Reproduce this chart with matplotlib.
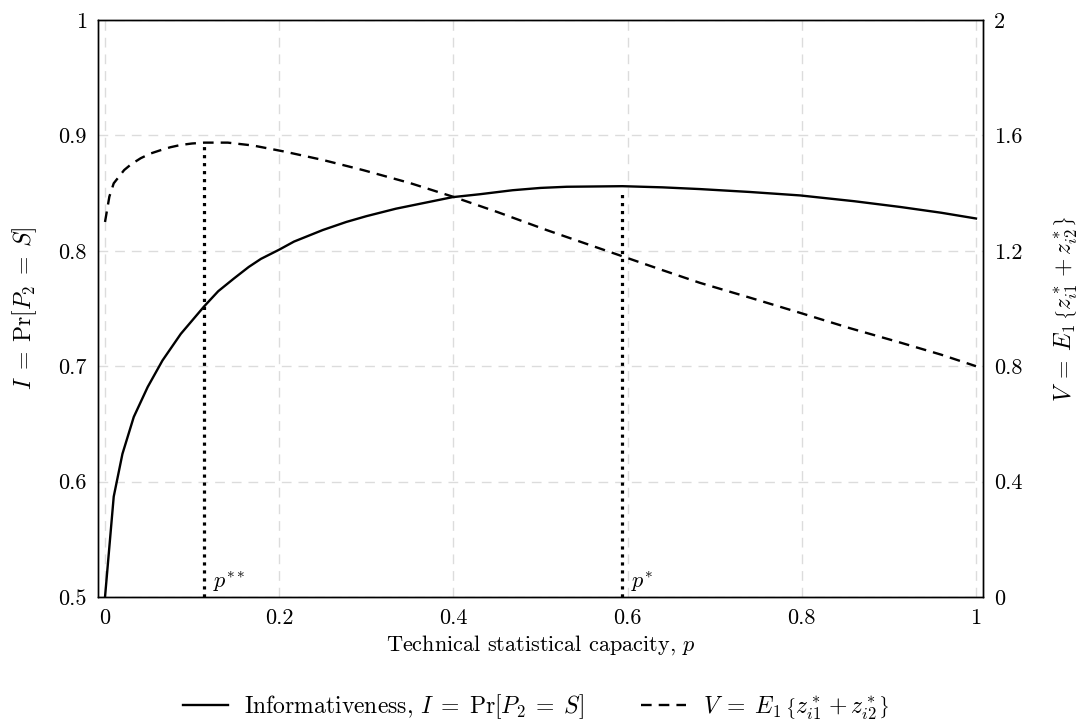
import matplotlib
matplotlib.use('Agg')
import matplotlib.pyplot as plt

plt.rcParams['font.family'] = ['cmr10', 'DejaVu Serif']
plt.rcParams['mathtext.fontset'] = 'cm'
plt.rcParams['axes.unicode_minus'] = False
plt.rcParams['axes.formatter.use_mathtext'] = True

# informativeness curve, left axis
p_inf = [0, 0.01, 0.02, 0.033, 0.049, 0.066, 0.087, 0.114, 0.13, 0.148, 0.165, 0.179, 0.2,
         0.217, 0.25, 0.277, 0.30, 0.334, 0.36, 0.399, 0.43, 0.468, 0.50, 0.53, 0.594,
         0.64, 0.683, 0.74, 0.798, 0.86, 0.913, 0.96, 1.0]
inf_vals = [0.5, 0.587, 0.624, 0.656, 0.682, 0.705, 0.728, 0.752, 0.765, 0.776, 0.786, 0.793, 0.801,
            0.808, 0.818, 0.825, 0.830, 0.8365, 0.8405, 0.8465, 0.849, 0.8525, 0.8545, 0.8555, 0.856,
            0.855, 0.8535, 0.851, 0.848, 0.843, 0.838, 0.833, 0.828]

# V curve, right axis
p_v = [0, 0.005, 0.01, 0.022, 0.03, 0.041, 0.052, 0.064, 0.075, 0.087, 0.1, 0.114, 0.141,
       0.17, 0.206, 0.25, 0.296, 0.35, 0.399, 0.45, 0.507, 0.55, 0.595, 0.64, 0.683,
       0.74, 0.798, 0.855, 0.913, 0.96, 1.0]
v_vals = [1.30, 1.388, 1.434, 1.480, 1.500, 1.521, 1.537, 1.549, 1.559, 1.567, 1.572, 1.575, 1.575,
          1.565, 1.544, 1.515, 1.480, 1.435, 1.388, 1.335, 1.272, 1.227, 1.180, 1.133, 1.089,
          1.038, 0.985, 0.932, 0.882, 0.840, 0.80]

# marked capacities and where their dotted lines stop (left axis units)
p_marks = [0.114, 0.594]
mark_tops = [0.891, 0.850]
mark_labels = ['$p^{**}$', '$p^{*}$']

x_ticks = [0, 0.2, 0.4, 0.6, 0.8, 1.0]
x_labels = ['0', '0.2', '0.4', '0.6', '0.8', '1']
yl_ticks = [0.5, 0.6, 0.7, 0.8, 0.9, 1.0]
yl_labels = ['0.5', '0.6', '0.7', '0.8', '0.9', '1']
yr_ticks = [0, 0.4, 0.8, 1.2, 1.6, 2.0]
yr_labels = ['0', '0.4', '0.8', '1.2', '1.6', '2']

fs = 16
fs_math = 17

i_label = '$I\\;=\\;\\Pr[P_2\\;=\\;S]$'
v_label = '$V\\;=\\;E_1\\,\\left\\{z^*_{i1} + z^*_{i2}\\right\\}$'

fig = plt.figure(figsize=(10.81, 7.23), dpi=100)
ax = fig.add_axes([0.0907, 0.1743, 0.8186, 0.798])
ax2 = ax.twinx()

# grid behind everything
ax.set_axisbelow(True)
ax.grid(True, color='#dcdcdc', linewidth=1, linestyle=(0, (7, 5)))

l1, = ax.plot(p_inf, inf_vals, color='black', lw=1.7,
              label='Informativeness, ' + i_label)
l2, = ax2.plot(p_v, v_vals, color='black', lw=1.7, linestyle=(0, (4.5, 3)),
               label=v_label)

for pm, top, lab in zip(p_marks, mark_tops, mark_labels):
    ax.vlines(pm, 0.5, top, colors='black', lw=2.3, linestyles=(0, (1, 1.5)))
    ax.annotate(lab, (pm, 0.5), xytext=(6, 2), textcoords='offset points',
                ha='left', va='bottom', fontsize=fs)

ax.set_xlim(-0.008, 1.008)
ax.set_ylim(0.5, 1.0)
ax2.set_ylim(0, 2)

ax.set_xticks(x_ticks)
ax.set_xticklabels(x_labels, fontsize=fs)
ax.set_yticks(yl_ticks)
ax.set_yticklabels(yl_labels, fontsize=fs)
ax2.set_yticks(yr_ticks)
ax2.set_yticklabels(yr_labels, fontsize=fs)
ax.tick_params(length=0, pad=8)
ax2.tick_params(length=0, pad=8)

ax.set_xlabel('Technical statistical capacity, $p$', fontsize=fs, labelpad=4)
ax.set_ylabel(i_label, fontsize=fs_math, labelpad=14)
ax2.set_ylabel(v_label, fontsize=fs_math, labelpad=22)

for a in (ax, ax2):
    for s in a.spines.values():
        s.set_linewidth(1)
        s.set_color('black')

fig.legend(handles=[l1, l2], loc='center', bbox_to_anchor=(0.496, 0.022), ncol=2,
           frameon=False, fontsize=fs_math, handlelength=1.9, handletextpad=0.7,
           columnspacing=2.4)

fig.savefig('out.png', dpi=100)
